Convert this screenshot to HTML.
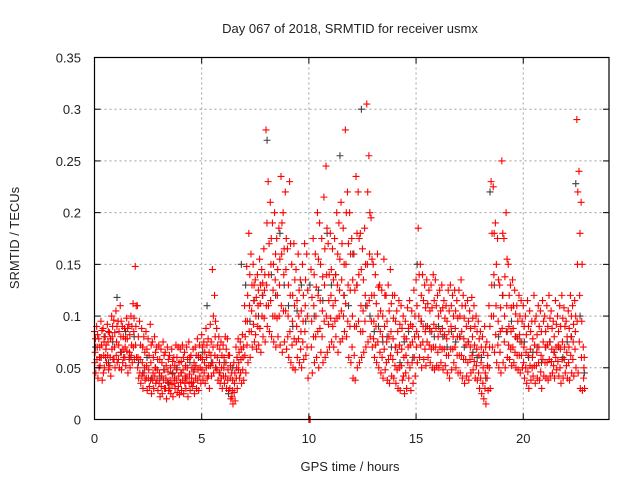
<!DOCTYPE html>
<html><head><meta charset="utf-8"><style>
body{margin:0;background:#fff}
svg{display:block;font-family:"Liberation Sans",sans-serif}
</style></head><body>
<svg id="chart" width="640" height="480" viewBox="0 0 640 480">
<text x="350" y="33" font-size="13" text-anchor="middle" fill="#222">Day 067 of 2018, SRMTID for receiver usmx</text>
<text x="350" y="471" font-size="13" text-anchor="middle" fill="#222">GPS time / hours</text>
<text x="19" y="238" font-size="13" text-anchor="middle" fill="#222" transform="rotate(-90 19 238)">SRMTID / TECUs</text>
<g id="grid"></g>
<g id="marks"></g>
<rect x="94.5" y="57.5" width="514.5" height="362" fill="none" stroke="#000" stroke-width="1.2"/>
<g id="ticks"></g>
</svg>
<script>
const xTicks=[0,5,10,15,20];
const yTicks=[0,0.05,0.1,0.15,0.2,0.25,0.3,0.35];
const yTickLabels=["0","0.05","0.1","0.15","0.2","0.25","0.3","0.35"];
// red series, values in 0.001 TECU, one row per hour at 0.1 h steps
const redA=[85,90,78,95,88,80,92,84,100,96, 105,95,110,90,88,98,92,100,112,148, 110,95,88,80,85,78,92,75,80,70, 72,68,75,65,70,62,68,60,72,70, 68,72,65,70,75,62,68,70,78,72, 82,75,88,78,92,145,120,88,80,75, 72,80,78,62,45,55,70,78,75,82, 110,148,180,160,150,135,140,155,145,165, 280,230,210,190,200,175,185,235,200,220, 165,230,150,170,145,160,135,150,170,160, 0,145,175,160,200,190,175,215,245,170, 180,165,175,200,190,210,185,280,220,200, 175,160,235,220,180,165,185,305,255,195, 150,140,160,130,125,155,120,130,145,120, 120,105,115,110,100,95,108,115,105,125, 135,185,150,140,130,135,125,130,140,135, 120,125,130,115,110,125,130,120,125,115, 125,135,120,110,115,105,118,110,100,95, 85,80,90,75,110,230,225,190,175,130, 250,175,200,150,130,135,125,110,120,115, 110,100,115,105,95,120,100,110,105,115, 100,110,120,105,95,115,100,110,120,108, 95,105,120,110,115,290,240,210,70];
const redB=[45,40,52,38,50,55,48,42,58,50, 55,50,48,60,52,45,50,55,58,60, 40,35,30,38,28,32,25,30,35,28, 22,25,30,20,28,25,22,30,26,24, 28,25,30,22,28,32,25,30,28,35, 38,35,40,30,42,45,50,38,35,30, 35,30,28,20,15,18,30,40,35,38, 45,55,60,70,75,68,72,65,80,75, 90,85,80,75,70,80,72,65,75,68, 60,55,50,48,60,55,50,58,62,40, 0,45,55,60,50,65,55,60,65,70, 75,70,80,65,75,78,85,80,60,55, 40,38,50,55,60,65,70,75,80,70, 60,55,50,45,40,48,38,35,42,40, 35,30,28,38,25,30,40,28,35,42, 55,60,50,58,52,60,55,50,48,52, 50,55,48,52,45,40,48,55,50,45, 45,40,35,42,38,45,48,40,38,30, 25,20,15,28,30,70,65,55,50,45, 55,50,60,58,52,55,50,48,45,50, 40,35,30,38,42,35,40,38,30,42, 40,38,42,45,40,48,42,35,40,45, 40,38,45,42,50,45,30,28,30];
const redC=[65,70,60,72,62,68,75,60,80,70, 75,72,80,68,70,78,65,72,85,90, 60,58,55,50,52,48,55,45,50,48, 45,42,48,40,46,38,44,40,48,42, 45,48,42,50,44,40,46,52,48,50, 58,55,60,52,62,70,80,60,55,50, 50,55,48,40,28,35,50,55,58,60, 80,95,110,105,115,100,110,112,120,125, 130,140,150,125,135,120,130,160,140,145, 100,120,95,110,90,100,85,95,110,100, 0,95,110,100,120,115,105,130,140,115, 120,110,115,130,125,135,120,150,130,125, 100,90,130,140,110,105,120,150,160,120, 95,90,100,85,80,90,75,80,85,78, 70,65,72,68,60,62,70,72,75,80, 85,100,95,90,85,90,88,85,92,88, 80,85,88,82,78,85,90,80,88,80, 80,85,78,72,75,70,80,72,68,62, 55,50,45,52,70,130,140,110,95,85, 120,100,110,90,85,88,80,78,82,75, 70,65,62,68,60,72,65,70,62,75, 70,72,75,68,65,70,72,68,75,70, 65,70,80,75,85,150,120,95,50];
const redD=[78,82,70,86,75,72,85,78,90,84, 90,85,95,80,78,88,82,90,98,110, 80,72,70,65,68,62,72,60,65,58, 58,55,62,52,58,50,56,52,60,55, 56,60,52,58,60,50,55,62,62,60, 70,65,72,65,75,100,95,72,68,62, 60,68,62,52,38,45,60,65,68,70, 95,120,140,130,130,118,125,130,132,140, 190,170,175,150,160,145,155,190,165,175, 130,170,120,135,115,125,105,120,135,125, 0,118,140,128,155,150,138,165,185,140, 145,135,140,160,155,170,150,200,170,160, 135,125,180,175,145,135,150,220,200,155, 120,112,128,105,100,120,95,105,112,98, 95,85,92,88,80,78,88,92,90,100, 110,140,120,115,108,112,105,108,115,110, 100,105,108,98,95,105,110,100,105,98, 100,110,98,90,95,88,98,90,85,78, 70,65,70,62,90,180,180,150,135,108, 180,138,155,120,108,110,102,95,100,95, 90,82,90,85,78,95,82,90,85,95, 85,90,98,88,80,92,85,90,98,90, 80,88,100,92,100,220,180,150,60];
const redE=[55,58,50,60,45,60,62,52,68,58, 62,58,65,55,60,66,58,62,70,72, 50,45,42,45,40,40,38,38,42,38, 35,32,38,30,36,30,34,35,38,32, 36,38,35,40,36,35,36,40,38,42, 48,45,50,42,52,55,62,48,45,40, 42,42,38,30,22,26,40,48,45,48, 62,72,85,85,92,82,90,88,100,98, 110,110,115,100,100,98,100,110,105,105, 80,85,72,78,75,78,68,75,85,70, 0,70,80,80,85,88,80,95,100,92, 98,90,95,98,100,105,100,112,95,90, 70,62,90,95,85,85,95,110,115,95, 78,72,75,65,60,68,55,58,62,58, 52,48,50,52,42,45,55,50,55,60, 70,80,72,75,68,75,72,68,70,70, 65,70,68,68,62,62,68,68,70,62, 62,62,58,58,55,58,62,56,52,45, 40,35,30,40,50,100,100,82,72,65, 88,75,85,72,68,70,65,62,62,62, 55,50,46,52,50,52,52,55,46,58, 55,55,58,56,52,60,56,50,58,58, 52,55,62,58,68,95,75,60,40];
// black series at 0.2 h steps
const blackV=[70,60,80,55,75, 118,65,85,60,80, 55,45,60,40,50, 40,48,35,45,50, 45,40,55,48,60, 65,110,55,50,45, 55,25,50,60,150, 130,95,115,100,120, 270,140,120,180,130, 110,90,105,130,95, 130,100,125,115,180, 130,140,255,120,110, 160,130,300,110,100, 85,90,75,80,70, 70,55,75,85,60, 150,95,90,85,80, 90,80,70,85,75, 80,70,75,65,60, 60,40,220,130,80, 120,85,95,80,75, 75,60,65,70,55, 70,75,65,70,60, 75,80,228,100,45];
const NS="http://www.w3.org/2000/svg";
const X0=94.5,X1=609,Y0=419.5,Y1=57.5;
const sx=t=>X0+(t/24)*(X1-X0);
const sy=v=>Y0-(v/0.35)*(Y0-Y1);
function mk(tag,attrs,parent){const e=document.createElementNS(NS,tag);for(const k in attrs)e.setAttribute(k,attrs[k]);parent.appendChild(e);return e;}
const grid=document.getElementById('grid'),ticks=document.getElementById('ticks'),marks=document.getElementById('marks');
xTicks.forEach(t=>{const x=sx(t);
 if(t>0){const g=mk('line',{x1:x,x2:x,y1:Y1,y2:Y0,stroke:'#a0a0a0','stroke-dasharray':'2,3'},grid);
 
 }
 const a=mk('line',{x1:x,x2:x,y1:Y0,y2:Y0-6,stroke:'#000'},ticks);
 
 
 const b=mk('line',{x1:x,x2:x,y1:Y1,y2:Y1+6,stroke:'#000'},ticks);
 
 
 const l=mk('text',{x:x,y:443,'font-size':13,'text-anchor':'middle',fill:'#222'},ticks);l.textContent=String(t);
 
 
});
yTicks.forEach((v,i)=>{const y=sy(v);
 if(v>0&&v<0.35){const g=mk('line',{x1:X0,x2:X1,y1:y,y2:y,stroke:'#a0a0a0','stroke-dasharray':'2,3'},grid);
 
 }
 const a=mk('line',{x1:X0,x2:X0+6,y1:y,y2:y,stroke:'#000'},ticks);
 
 
 const b=mk('line',{x1:X1,x2:X1-6,y1:y,y2:y,stroke:'#000'},ticks);
 
 
 const l=mk('text',{x:81,y:y+5,'font-size':13,'text-anchor':'end',fill:'#222'},ticks);l.textContent=yTickLabels[i];
 
 
});
function plus(t,v,col,name){const x=sx(t),y=sy(v);
 const p=mk('path',{d:`M${x-3.5} ${y}H${x+3.5}M${x} ${y-3.5}V${y+3.5}`,stroke:col,'stroke-width':1.1,fill:'none'},marks);
 
 }
blackV.forEach((v,i)=>plus(i*0.2+0.05,v/1000,'#404040','black-point'));
const redOffsets=[0,0.06,0.03,0.045,0.015];
[redA,redB,redC,redD,redE].forEach((arr,k)=>arr.forEach((v,i)=>plus(i*0.1+redOffsets[k],v/1000,'#ff0000','red-point')));
</script>
</body></html>
